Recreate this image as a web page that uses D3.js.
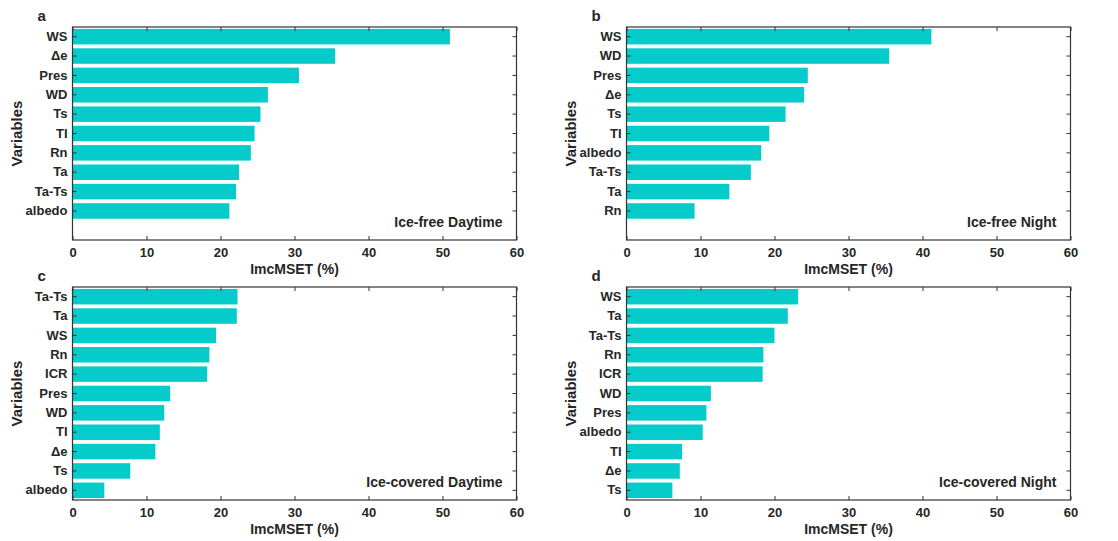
<!DOCTYPE html>
<html>
<head>
<meta charset="utf-8">
<script src="https://cdn.jsdelivr.net/npm/d3@7"></script>
<style>
  body { margin: 0; background: #fff; }
  text { font-family: "Liberation Sans", Arial, sans-serif; font-weight: bold; fill: #262626; }
</style>
</head>
<body>
<div id="container"></div>
<script>
// a: ice-free daytime
const varsA = ["WS", "Δe", "Pres", "WD", "Ts", "TI", "Rn", "Ta", "Ta-Ts", "albedo"];
const valsA = [51.0, 35.5, 30.6, 26.4, 25.4, 24.6, 24.1, 22.5, 22.1, 21.2];
// b: ice-free night
const varsB = ["WS", "WD", "Pres", "Δe", "Ts", "TI", "albedo", "Ta-Ts", "Ta", "Rn"];
const valsB = [41.2, 35.5, 24.5, 24.0, 21.5, 19.3, 18.2, 16.8, 13.9, 9.2];
// c: ice-covered daytime
const varsC = ["Ta-Ts", "Ta", "WS", "Rn", "ICR", "Pres", "WD", "TI", "Δe", "Ts", "albedo"];
const valsC = [22.3, 22.2, 19.4, 18.5, 18.2, 13.2, 12.4, 11.8, 11.2, 7.8, 4.3];
// d: ice-covered night
const varsD = ["WS", "Ta", "Ta-Ts", "Rn", "ICR", "WD", "Pres", "albedo", "TI", "Δe", "Ts"];
const valsD = [23.2, 21.8, 20.0, 18.5, 18.4, 11.4, 10.8, 10.3, 7.5, 7.2, 6.2];

const xTicks = [0, 10, 20, 30, 40, 50, 60];
const panelLetters = ["a", "b", "c", "d"];
const panelTitles = ["Ice-free Daytime", "Ice-free Night", "Ice-covered Daytime", "Ice-covered Night"];

const width = 1118;
const height = 541;
const nSlots = 11;
const plotW = 444;
const plotH = 213;
const barColor = "#05cbcb";
const lineColor = "#333";

const panels = [
  {vars: varsA, vals: valsA, left: 72.5, top: 27},
  {vars: varsB, vals: valsB, left: 626.5, top: 27},
  {vars: varsC, vals: valsC, left: 72.5, top: 287},
  {vars: varsD, vals: valsD, left: 626.5, top: 287}
];

const svg = d3.select("#container")
              .append("svg")
              .attr("width", width)
              .attr("height", height);
svg.append("rect").attr("width", width).attr("height", height).attr("fill", "#fff");

panels.forEach((p, k) => {
  const g = svg.append("g")
               .attr("transform", "translate(" + p.left + "," + p.top + ")");

  // pad the category list so every panel has 11 slots
  const slots = p.vars.slice();
  for (let i = slots.length; i < nSlots; i++) slots.push("_empty" + i);

  const xScale = d3.scaleLinear().domain([0, 60]).range([0, plotW]);
  const yScale = d3.scaleBand().domain(slots).range([0, plotH]).paddingInner(0.2).paddingOuter(0.1);

  g.selectAll("rect.bar")
   .data(p.vars)
   .enter()
   .append("rect")
   .attr("class", "bar")
   .attr("x", xScale(0))
   .attr("y", (d) => yScale(d))
   .attr("width", (d, i) => xScale(p.vals[i]) - xScale(0))
   .attr("height", yScale.bandwidth())
   .attr("fill", barColor);

  const yAxis = d3.axisLeft(yScale).tickValues(p.vars).tickSize(-4).tickPadding(5);
  const yAxisR = d3.axisRight(yScale).tickValues(p.vars).tickSize(-4).tickFormat("");
  const xAxis = d3.axisBottom(xScale).tickValues(xTicks).tickSize(-4).tickPadding(8);
  const xAxisT = d3.axisTop(xScale).tickValues(xTicks).tickSize(-4).tickFormat("");

  const ya = g.append("g").call(yAxis);
  const yr = g.append("g").attr("transform", "translate(" + plotW + ",0)").call(yAxisR);
  const xa = g.append("g").attr("transform", "translate(0," + plotH + ")").call(xAxis);
  const xt = g.append("g").call(xAxisT);
  [ya, yr, xa, xt].forEach((a) => {
    a.select(".domain").remove();
    a.selectAll("line").attr("stroke", lineColor);
    a.selectAll("text").attr("font-size", 13).attr("fill", "#262626")
     .attr("font-family", "'Liberation Sans', Arial, sans-serif").attr("font-weight", "bold");
  });

  g.append("rect")
   .attr("width", plotW)
   .attr("height", plotH)
   .attr("fill", "none")
   .attr("stroke", lineColor)
   .attr("stroke-width", 1.2);

  g.append("text")
   .text("ImcMSET (%)")
   .attr("x", plotW / 2)
   .attr("y", plotH + 34)
   .attr("text-anchor", "middle")
   .attr("font-size", 14);

  g.append("text")
   .text("Variables")
   .attr("transform", "translate(" + (-51) + "," + (plotH / 2) + ")rotate(-90)")
   .attr("text-anchor", "middle")
   .attr("font-size", 15);

  g.append("text")
   .text(panelTitles[k])
   .attr("x", plotW - 14)
   .attr("y", plotH - 13)
   .attr("text-anchor", "end")
   .attr("font-size", 14)
   .attr("fill", "#111");

  g.append("text")
   .text(panelLetters[k])
   .attr("x", -35)
   .attr("y", -6)
   .attr("font-size", 15)
   .attr("fill", "#111");
});
</script>
</body>
</html>
